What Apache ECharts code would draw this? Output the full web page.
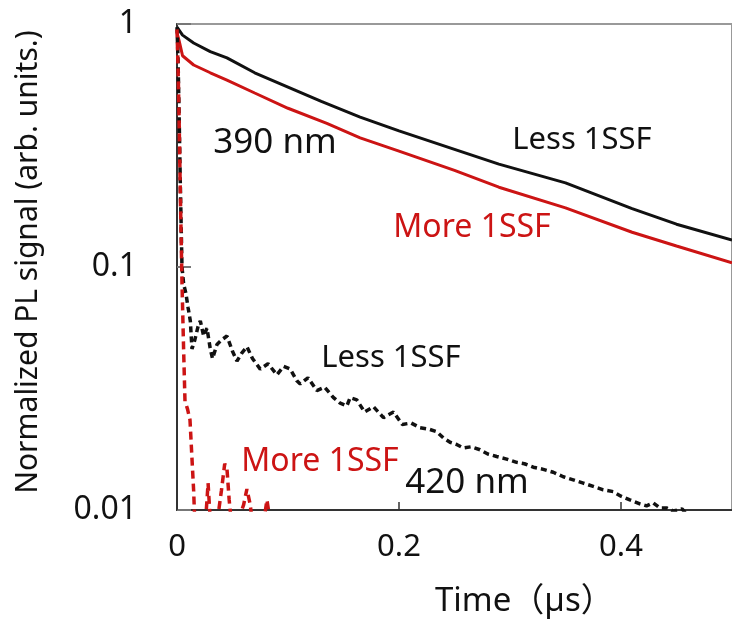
<!DOCTYPE html>
<html lang="en">
<head>
    <meta charset="UTF-8">
    <title>PL decay</title>
    <style type="text/css">
        body {
            margin: 0;
        }

        #chart {
            width: 732px;
            height: 625px;
        }
    </style>
    <script type="text/javascript" src="https://cdn.jsdelivr.net/npm/echarts@6/dist/echarts.min.js"></script>
</head>
<body>
    <div id="chart"></div>
<script type="text/javascript">
    // 390 nm, solid lines
    var tLess390 = [0, 0.005, 0.015, 0.03, 0.045, 0.07, 0.1, 0.13, 0.165, 0.2, 0.25, 0.29, 0.35, 0.41, 0.45, 0.5];
    var vLess390 = [0.97, 0.9, 0.835, 0.77, 0.725, 0.63, 0.55, 0.48, 0.414, 0.363, 0.305, 0.265, 0.222, 0.174, 0.15, 0.129];
    var tMore390 = [0, 0.002, 0.005, 0.015, 0.03, 0.045, 0.07, 0.1, 0.135, 0.165, 0.2, 0.25, 0.29, 0.35, 0.41, 0.45, 0.5];
    var vMore390 = [0.92, 0.85, 0.74, 0.678, 0.63, 0.588, 0.52, 0.45, 0.39, 0.34, 0.3, 0.25, 0.213, 0.175, 0.139, 0.122, 0.104];

    // 420 nm, dashed lines
    var tLess420 = [0, 0.001, 0.002, 0.003, 0.0045, 0.006, 0.008, 0.01, 0.012, 0.0135, 0.016, 0.019, 0.021, 0.024, 0.027,
        0.03, 0.032, 0.036, 0.04, 0.045, 0.05, 0.054, 0.058, 0.063, 0.068, 0.075, 0.082, 0.09, 0.096, 0.102, 0.108,
        0.111, 0.118, 0.126, 0.133, 0.141, 0.147, 0.153, 0.156, 0.162, 0.169, 0.177, 0.186, 0.195, 0.203, 0.211,
        0.219, 0.227, 0.234, 0.24, 0.246, 0.252, 0.258, 0.265, 0.273, 0.28, 0.288, 0.297, 0.306, 0.313, 0.321,
        0.33, 0.339, 0.348, 0.357, 0.366, 0.375, 0.384, 0.393, 0.4, 0.408, 0.417, 0.423, 0.429, 0.435, 0.441,
        0.447, 0.455, 0.46, 0.47];
    var vLess420 = [0.97, 0.7, 0.4, 0.22, 0.1, 0.085, 0.078, 0.068, 0.06, 0.046, 0.05, 0.057, 0.06, 0.052, 0.056,
        0.046, 0.042, 0.048, 0.05, 0.052, 0.045, 0.041, 0.044, 0.047, 0.042, 0.038, 0.04, 0.036, 0.039, 0.038, 0.034,
        0.033, 0.035, 0.031, 0.032, 0.029, 0.0275, 0.0268, 0.029, 0.0284, 0.0253, 0.0266, 0.024, 0.0253, 0.0225, 0.0228,
        0.0218, 0.0215, 0.021, 0.0198, 0.019, 0.0186, 0.018, 0.0182, 0.0177, 0.017, 0.0166, 0.0162, 0.0157, 0.0155, 0.015,
        0.0147, 0.0143, 0.0137, 0.0133, 0.0129, 0.0125, 0.0121, 0.0119, 0.0114, 0.011, 0.0106, 0.0104, 0.0107, 0.0102, 0.0102,
        0.0099, 0.0101, 0.0095, 0.009];
    var tMore420 = [0, 0.001, 0.002, 0.003, 0.0045, 0.006, 0.0072, 0.0095, 0.0117, 0.013, 0.015, 0.016, 0.02, 0.025,
        0.028, 0.03, 0.033, 0.037, 0.04, 0.043, 0.045, 0.047, 0.05, 0.055, 0.06, 0.063, 0.066, 0.069, 0.075, 0.079,
        0.081, 0.084, 0.088, 0.095];
    var vMore420 = [0.95, 0.65, 0.38, 0.2, 0.086, 0.045, 0.028, 0.026, 0.0235, 0.018, 0.012, 0.009, 0.007, 0.008,
        0.0129, 0.009, 0.007, 0.0095, 0.012, 0.0155, 0.0148, 0.011, 0.008, 0.009, 0.0105, 0.0122, 0.0105, 0.008, 0.0085, 0.0095,
        0.011, 0.009, 0.006, 0.005];

    var xTicks = [0, 0.2, 0.4];
    var yTicks = [0.01, 0.1, 1];

    var fontFam = '"Noto Sans", "Noto Sans CJK SC", sans-serif';
    var blackCol = '#111111';
    var redCol = '#cc1414';

    function pairs(t, v){
        var arr = [];
        for(var i = 0;i < t.length;i++){
            arr.push([t[i], v[i]]);
        }
        return arr;
    }

    function note(txt, x, y, col, size, align){
        return {
            type: 'text',
            x: x,
            y: y,
            z: 10,
            style: {
                text: txt,
                fill: col,
                font: size + 'px ' + fontFam,
                textAlign: align || 'center',
                textVerticalAlign: 'middle'
            }
        };
    }

    var chart = echarts.init(document.getElementById('chart'));
    var option = {
        animation: false,
        backgroundColor: '#ffffff',
        grid: {
            left: 177,
            right: 0,
            top: 24,
            bottom: 115,
            show: true,
            borderColor: '#999999',
            borderWidth: 2
        },
        xAxis: {
            type: 'value',
            min: 0,
            max: 0.5,
            interval: 0.2,
            axisLine: {
                lineStyle: { color: '#333333', width: 2 }
            },
            axisTick: {
                inside: true,
                length: 8,
                lineStyle: { color: '#333333', width: 1.5 }
            },
            axisLabel: {
                margin: 22,
                fontSize: 31,
                fontFamily: fontFam,
                color: blackCol,
                showMaxLabel: false,
                formatter: function (v){
                    return xTicks.indexOf(Math.round(v * 10) / 10) >= 0 ? String(Math.round(v * 10) / 10) : '';
                }
            },
            splitLine: { show: false }
        },
        yAxis: {
            type: 'log',
            logBase: 10,
            min: 0.01,
            max: 1,
            axisLine: {
                show: true,
                lineStyle: { color: '#333333', width: 2 }
            },
            axisTick: {
                show: true,
                inside: true,
                length: 14,
                lineStyle: { color: '#777777', width: 2 }
            },
            axisLabel: {
                margin: 40,
                fontSize: 32,
                fontFamily: fontFam,
                color: blackCol,
                formatter: function (v){
                    for(var i = 0;i < yTicks.length;i++){
                        if(Math.abs(v - yTicks[i]) < yTicks[i] * 0.01){
                            return String(yTicks[i]);
                        }
                    }
                    return '';
                }
            },
            splitLine: { show: false }
        },
        graphic: [
            {
                type: 'text',
                x: 28,
                y: 262,
                rotation: Math.PI / 2,
                style: {
                    text: 'Normalized PL signal (arb. units.)',
                    fill: blackCol,
                    font: '30px ' + fontFam,
                    textAlign: 'center',
                    textVerticalAlign: 'middle'
                }
            },
            note('Time（µs）', 435, 602, blackCol, 33, 'left'),
            note('390 nm', 275, 143, blackCol, 35),
            note('Less 1SSF', 582, 140, blackCol, 31),
            note('More 1SSF', 472, 228, redCol, 32),
            note('Less 1SSF', 391, 358, blackCol, 31),
            note('More 1SSF', 320, 462, redCol, 32),
            note('420 nm', 467, 483, blackCol, 35)
        ],
        series: [{
            name: 'Less 1SSF 390',
            type: 'line',
            showSymbol: false,
            clip: true,
            data: pairs(tLess390, vLess390),
            lineStyle: { color: blackCol, width: 3 }
        },{
            name: 'More 1SSF 390',
            type: 'line',
            showSymbol: false,
            clip: true,
            data: pairs(tMore390, vMore390),
            lineStyle: { color: redCol, width: 3 }
        },{
            name: 'Less 1SSF 420',
            type: 'line',
            showSymbol: false,
            clip: true,
            data: pairs(tLess420, vLess420),
            lineStyle: { color: blackCol, width: 3.5, type: [6, 4] }
        },{
            name: 'More 1SSF 420',
            type: 'line',
            showSymbol: false,
            clip: true,
            data: pairs(tMore420, vMore420),
            lineStyle: { color: redCol, width: 3.5, type: [8, 5] }
        }]
    };
    chart.setOption(option);
</script>
</body>
</html>
